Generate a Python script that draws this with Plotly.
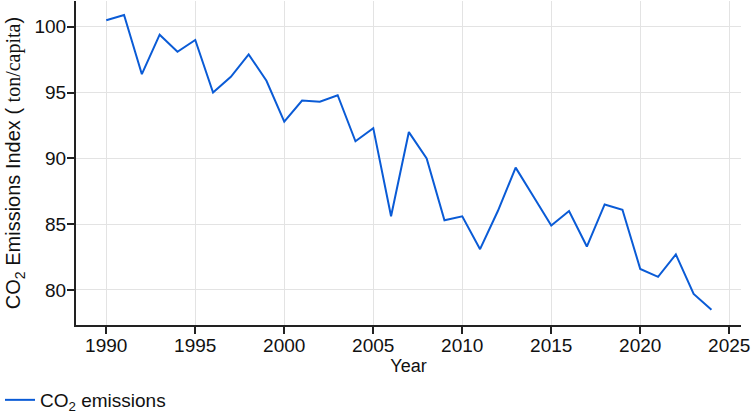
import plotly.graph_objects as go

years = list(range(1990, 2025))
emissions = [100.5, 100.9, 96.4, 99.4, 98.1, 99.0, 95.0, 96.2, 97.9, 95.9,
             92.8, 94.4, 94.3, 94.8, 91.3, 92.3, 85.6, 92.0, 90.0, 85.3,
             85.6, 83.1, 86.0, 89.3, 87.1, 84.9, 86.0, 83.3, 86.5, 86.1,
             81.6, 81.0, 82.7, 79.7, 78.5]

x_ticks = [1990, 1995, 2000, 2005, 2010, 2015, 2020, 2025]
y_ticks = [80, 85, 90, 95, 100]

fig = go.Figure()
fig.add_trace(go.Scatter(
    x=years, y=emissions,
    mode="lines",
    line=dict(color="#0a5bd6", width=2),
    name="CO<sub>2</sub> emissions",
))

axis_style = dict(
    automargin=False,
    showline=True, linecolor="#222222", linewidth=2,
    showgrid=True, gridcolor="#e3e3e3", gridwidth=1,
    zeroline=False,
    ticks="outside", ticklen=7, tickcolor="#222222", tickwidth=1.5,
    tickfont=dict(size=19, color="#111111"),
)

fig.update_layout(
    width=754, height=419,
    margin=dict(l=76, r=13, t=1, b=94),
    paper_bgcolor="white", plot_bgcolor="white",
    font=dict(family="Liberation Sans, Arial, sans-serif", color="#111111", size=19),
    xaxis=dict(axis_style, range=[1988.3, 2025.66], tickvals=x_ticks,
               ticklabelstandoff=-5,
               title=dict(text="Year", standoff=4, font=dict(size=18))),
    yaxis=dict(axis_style, range=[77.34, 101.96], tickvals=y_ticks,
               ticklabelstandoff=-3,
               title=dict(text="CO<sub>2</sub> Emissions Index ( "
                               "<span style='font-family:Liberation Serif, serif'>ton/capita</span>)",
                          standoff=8, font=dict(size=20))),
    showlegend=True,
    legend=dict(orientation="h", xref="container", yref="container",
                x=-0.004, y=-0.005, xanchor="left", yanchor="bottom",
                font=dict(size=19), itemwidth=30),
)

# page body has a default margin; drop it so the figure sits at the corner
fig.write_html("out.html", config={"displayModeBar": False},
               post_script="document.body.style.margin='0px';")
